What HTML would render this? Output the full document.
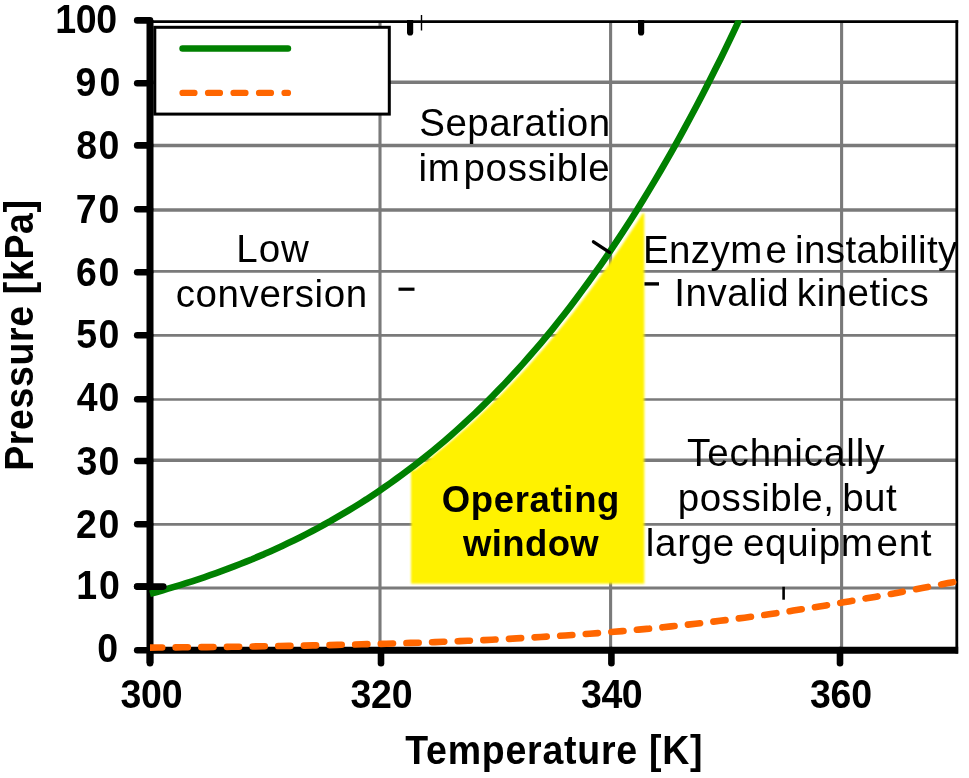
<!DOCTYPE html>
<html lang="en">
<head>
<meta charset="utf-8">
<title>Operating window</title>
<style>
html,body{margin:0;padding:0;background:#fff;}
body{width:969px;height:778px;overflow:hidden;}
svg{display:block;}
text{font-family:"Liberation Sans",Arial,sans-serif;fill:#000;}
.r{font-size:38.5px;word-spacing:-3.5px;}
.b{font-size:37.5px;font-weight:bold;}
</style>
</head>
<body>
<svg width="969" height="778" viewBox="0 0 969 778">
<defs>
<filter id="soft" x="-5%" y="-5%" width="110%" height="110%"><feGaussianBlur stdDeviation="1.1"/></filter>
</defs>
<rect width="969" height="778" fill="#fff"/>
<g stroke="#7a7a7a" stroke-width="3.1" fill="none">
<line x1="152" x2="956" y1="82.2" y2="82.2" stroke-width="3.5"/>
<line x1="152" x2="956" y1="145.5" y2="145.5" stroke-width="3.5"/>
<line x1="152" x2="956" y1="210" y2="210" stroke-width="3.5"/>
<line x1="152" x2="956" y1="271.4" y2="271.4" stroke-width="2.9"/>
<line x1="152" x2="956" y1="335.3" y2="335.3" stroke-width="2.7"/>
<line x1="152" x2="956" y1="399.5" y2="399.5" stroke-width="2.7"/>
<line x1="152" x2="956" y1="460.3" y2="460.3" stroke-width="3.4"/>
<line x1="152" x2="956" y1="524.3" y2="524.3" stroke-width="2.8"/>
<line x1="152" x2="956" y1="588" y2="588" stroke-width="2.8"/>
<line x1="380" x2="380" y1="22" y2="648"/>
<line x1="610.6" x2="610.6" y1="22" y2="648"/>
<line x1="841.6" x2="841.6" y1="22" y2="648"/>
</g>
<!-- plot frame -->
<line x1="150" x2="958.2" y1="21.7" y2="21.7" stroke="#000" stroke-width="2.8"/>
<line x1="956.8" x2="956.8" y1="20.3" y2="653.6" stroke="#000" stroke-width="2.8"/>
<!-- operating window -->
<path d="M411,583.8 L411,470.2 L414.7,470.2 L419.1,466.9 L423.5,463.6 L427.9,460.1 L432.3,456.7 L436.6,453.1 L441.0,449.6 L445.4,445.9 L449.8,442.2 L454.2,438.5 L458.5,434.7 L462.9,430.8 L467.3,426.9 L471.7,422.9 L476.1,418.9 L480.4,414.8 L484.8,410.6 L489.2,406.4 L493.6,402.1 L498.0,397.7 L502.4,393.3 L506.7,388.8 L511.1,384.3 L515.5,379.6 L519.9,374.9 L524.3,370.2 L528.7,365.4 L533.0,360.5 L537.4,355.5 L541.8,350.5 L546.2,345.4 L550.6,340.2 L555.0,334.9 L559.4,329.6 L563.7,324.2 L568.1,318.7 L572.5,313.2 L576.9,307.5 L581.3,301.8 L585.7,296.0 L590.1,290.2 L594.4,284.2 L598.8,278.2 L603.2,272.1 L607.6,265.9 L612.0,259.6 L616.4,253.3 L620.8,246.8 L625.1,240.3 L629.5,233.7 L633.9,227.0 L638.3,220.2 L642.7,213.3 L644.3,213.3 L644.3,583.8 Z" fill="#fff200" filter="url(#soft)"/>
<!-- legend -->
<rect x="154.8" y="27.3" width="234.5" height="86.8" fill="#fff" stroke="#000" stroke-width="3"/>
<line x1="182.5" x2="288" y1="48.5" y2="48.5" stroke="#008000" stroke-width="6.4" stroke-linecap="round"/>
<line x1="182.5" x2="288" y1="92.9" y2="92.9" stroke="#ff6600" stroke-width="6.2" stroke-linecap="round" stroke-dasharray="12 13.5"/>
<!-- axes -->
<line x1="150" x2="150" y1="20" y2="663.2" stroke="#000" stroke-width="7" />
<line x1="150" x2="958.2" y1="650.2" y2="650.2" stroke="#000" stroke-width="7"/>
<g stroke="#000" stroke-width="6.6" stroke-linecap="round">
<line x1="137.2" x2="150" y1="20.4" y2="20.4"/>
<line x1="137.2" x2="150" y1="83.3" y2="83.3"/>
<line x1="137.2" x2="150" y1="145.4" y2="145.4"/>
<line x1="137.2" x2="150" y1="209.3" y2="209.3"/>
<line x1="137.2" x2="150" y1="272.2" y2="272.2"/>
<line x1="137.2" x2="150" y1="335.3" y2="335.3"/>
<line x1="137.2" x2="150" y1="399.3" y2="399.3"/>
<line x1="137.2" x2="150" y1="461" y2="461"/>
<line x1="137.2" x2="150" y1="524.2" y2="524.2"/>
<line x1="137.2" x2="150" y1="586.6" y2="586.6"/>
<line x1="137.2" x2="150" y1="650.2" y2="650.2"/>
<line x1="150" x2="150" y1="650" y2="663.2"/>
<line x1="381" x2="381" y1="650" y2="663.2"/>
<line x1="611.4" x2="611.4" y1="650" y2="663.2"/>
<line x1="840" x2="840" y1="650" y2="663.2"/>
</g>
<!-- curves -->
<clipPath id="plot2"><rect x="150" y="20" width="820" height="640"/></clipPath>
<clipPath id="plot"><rect x="140" y="20.3" width="830" height="640"/></clipPath>
<path d="M150.0,647.6 L158.1,647.5 L166.3,647.5 L174.4,647.4 L182.6,647.3 L190.7,647.2 L198.9,647.2 L207.0,647.1 L215.1,647.0 L223.3,646.9 L231.4,646.8 L239.6,646.7 L247.7,646.5 L255.9,646.4 L264.0,646.3 L272.2,646.2 L280.3,646.0 L288.4,645.9 L296.6,645.8 L304.7,645.6 L312.9,645.4 L321.0,645.3 L329.2,645.1 L337.3,644.9 L345.4,644.7 L353.6,644.6 L361.7,644.3 L369.9,644.1 L378.0,643.9 L386.2,643.7 L394.3,643.4 L402.4,643.2 L410.6,642.9 L418.7,642.7 L426.9,642.4 L435.0,642.1 L443.2,641.8 L451.3,641.5 L459.5,641.1 L467.6,640.8 L475.7,640.4 L483.9,640.1 L492.0,639.7 L500.2,639.3 L508.3,638.9 L516.5,638.4 L524.6,638.0 L532.7,637.5 L540.9,637.0 L549.0,636.5 L557.2,636.0 L565.3,635.5 L573.5,634.9 L581.6,634.3 L589.7,633.7 L597.9,633.1 L606.0,632.4 L614.2,631.8 L622.3,631.1 L630.5,630.4 L638.6,629.6 L646.7,628.9 L654.9,628.1 L663.0,627.3 L671.2,626.4 L679.3,625.6 L687.5,624.7 L695.6,623.7 L703.8,622.8 L711.9,621.8 L720.0,620.8 L728.2,619.8 L736.3,618.7 L744.5,617.7 L752.6,616.6 L760.8,615.4 L768.9,614.3 L777.0,613.1 L785.2,611.9 L793.3,610.6 L801.5,609.3 L809.6,608.0 L817.8,606.7 L825.9,605.4 L834.0,604.0 L842.2,602.6 L850.3,601.2 L858.5,599.8 L866.6,598.3 L874.8,596.9 L882.9,595.4 L891.1,593.9 L899.2,592.4 L907.3,590.8 L915.5,589.3 L923.6,587.8 L931.8,586.2 L939.9,584.7 L948.1,583.1 L956.2,581.6" fill="none" stroke="#ff6600" stroke-width="6.6" stroke-linecap="round" stroke-dasharray="12.2 13.45" clip-path="url(#plot2)"/>
<path d="M150.0,593.8 L156.0,592.2 L162.0,590.5 L168.0,588.7 L174.0,586.9 L180.1,585.1 L186.1,583.2 L192.1,581.3 L198.1,579.3 L204.1,577.3 L210.1,575.2 L216.1,573.1 L222.1,570.9 L228.1,568.7 L234.1,566.4 L240.2,564.0 L246.2,561.6 L252.2,559.2 L258.2,556.6 L264.2,554.1 L270.2,551.4 L276.2,548.7 L282.2,545.9 L288.2,543.1 L294.2,540.2 L300.3,537.2 L306.3,534.1 L312.3,531.0 L318.3,527.8 L324.3,524.5 L330.3,521.2 L336.3,517.7 L342.3,514.2 L348.3,510.6 L354.3,507.0 L360.4,503.2 L366.4,499.4 L372.4,495.4 L378.4,491.4 L384.4,487.3 L390.4,483.1 L396.4,478.8 L402.4,474.4 L408.4,469.9 L414.4,465.4 L420.5,460.7 L426.5,455.9 L432.5,451.0 L438.5,446.0 L444.5,440.9 L450.5,435.7 L456.5,430.4 L462.5,425.0 L468.5,419.4 L474.5,413.8 L480.6,408.0 L486.6,402.1 L492.6,396.1 L498.6,389.9 L504.6,383.7 L510.6,377.3 L516.6,370.7 L522.6,364.1 L528.6,357.3 L534.6,350.4 L540.7,343.3 L546.7,336.1 L552.7,328.8 L558.7,321.3 L564.7,313.7 L570.7,305.9 L576.7,298.0 L582.7,289.9 L588.7,281.7 L594.7,273.3 L600.8,264.8 L606.8,256.1 L612.8,247.2 L618.8,238.2 L624.8,229.0 L630.8,219.7 L636.8,210.2 L642.8,200.5 L648.8,190.6 L654.8,180.6 L660.9,170.3 L666.9,159.9 L672.9,149.4 L678.9,138.6 L684.9,127.6 L690.9,116.5 L696.9,105.2 L702.9,93.7 L708.9,82.0 L714.9,70.0 L721.0,57.9 L727.0,45.6 L733.0,33.1 L739.0,20.4 L745.0,7.5" fill="none" stroke="#008000" stroke-width="6.6" stroke-linejoin="round" clip-path="url(#plot)"/>
<!-- small stray marks -->
<g fill="#000" stroke="none">
<path d="M407,20 h6.2 v12.4 a3.1,3.1 0 0 1 -6.2,0 z"/>
<path d="M638,20 h6.2 v12.4 a3.1,3.1 0 0 1 -6.2,0 z"/>
</g>
<g stroke="#000" fill="none">
<line x1="421.5" x2="421.5" y1="15" y2="30.5" stroke-width="1.4"/>
<line x1="398.5" x2="414.5" y1="289.2" y2="289.2" stroke-width="3.2"/>
<line x1="644.5" x2="659" y1="283.9" y2="283.9" stroke-width="3.4"/>
<line x1="593.5" x2="609.5" y1="241.8" y2="252.3" stroke-width="3.4" stroke-linecap="round"/>
<line x1="783.6" x2="783.6" y1="586.8" y2="599.7" stroke-width="2.6"/>
<line x1="137.2" x2="163.3" y1="586.6" y2="586.6" stroke-width="6.6" stroke-linecap="round"/>
</g>
<g>
<text class="r" transform="translate(419.25 136.3) scale(1 1.03)" style="letter-spacing:0.517px">Separation</text>
<text class="r" transform="translate(418.5 180.6) scale(1 1.03)" style="letter-spacing:0.694px">im<tspan dx="3">possible</tspan></text>
<text class="r" transform="translate(236.25 262.3) scale(1 1.03)" style="letter-spacing:0.975px">Low</text>
<text class="r" transform="translate(175.75 306.9) scale(1 1.03)" style="letter-spacing:0.578px">conversion</text>
<text class="r" transform="translate(643.0 262.7) scale(1 1.03)" style="letter-spacing:0.394px">Enzym<tspan dx="3">e instability</tspan></text>
<text class="r" transform="translate(674.25 306.0) scale(1 1.03)" style="letter-spacing:0.517px">Invalid kinetics</text>
<text class="r" transform="translate(687.0 465.9) scale(1 1.03)" style="letter-spacing:0.91px">Technically</text>
<text class="r" transform="translate(677.75 511.3) scale(1 1.03)" style="letter-spacing:0.525px">possible, but</text>
<text class="r" transform="translate(645.75 555.6) scale(1 1.03)" style="letter-spacing:0.732px">large equipm<tspan dx="3">ent</tspan></text>
<text class="b" transform="translate(441.75 512.3) scale(1 1.0)" style="letter-spacing:0.656px;font-size:36.5px">Operating</text>
<text class="b" transform="translate(463.0 556.2) scale(1 1.0)" style="letter-spacing:0.39px;font-size:36.5px">window</text>
<text class="b" transform="translate(405.25 763.8) scale(1 1.06)" style="letter-spacing:0.757px">Temperature [K]</text>
<text class="b" transform="translate(55.25 33.0) scale(1 1.075)" style="letter-spacing:-0.375px">100</text>
<text class="b" transform="translate(75.5 96.4) scale(1 1.075)" style="letter-spacing:3.05px">90</text>
<text class="b" transform="translate(76.25 159.4) scale(1 1.075)" style="letter-spacing:1.35px">80</text>
<text class="b" transform="translate(75.75 222.6) scale(1 1.075)" style="letter-spacing:1.85px">70</text>
<text class="b" transform="translate(76.0 285.8) scale(1 1.075)" style="letter-spacing:1.6px">60</text>
<text class="b" transform="translate(76.25 348.3) scale(1 1.075)" style="letter-spacing:1.35px">50</text>
<text class="b" transform="translate(76.75 411.2) scale(1 1.075)" style="letter-spacing:0.85px">40</text>
<text class="b" transform="translate(76.5 474.5) scale(1 1.075)" style="letter-spacing:1.1px">30</text>
<text class="b" transform="translate(76.0 537.6) scale(1 1.075)" style="letter-spacing:1.6px">20</text>
<text class="b" transform="translate(76.25 599.4) scale(1 1.075)" style="letter-spacing:1.8px">10</text>
<text class="b" transform="translate(97.35 662.4) scale(1 1.075)" style="letter-spacing:0.0px">0</text>
<text class="b" transform="translate(120.5 708.3) scale(1 1.075)" style="letter-spacing:-0.25px">300</text>
<text class="b" transform="translate(350.5 708.3) scale(1 1.075)" style="letter-spacing:-0.25px">320</text>
<text class="b" transform="translate(581.0 708.3) scale(1 1.075)" style="letter-spacing:-0.475px">340</text>
<text class="b" transform="translate(810.0 708.3) scale(1 1.075)" style="letter-spacing:-0.25px">360</text>
<text class="b" transform="translate(33 470.80) rotate(-90) scale(1 1.06)" style="letter-spacing:0.642px">Pressure [kPa]</text>
</g>
</svg>
</body>
</html>
